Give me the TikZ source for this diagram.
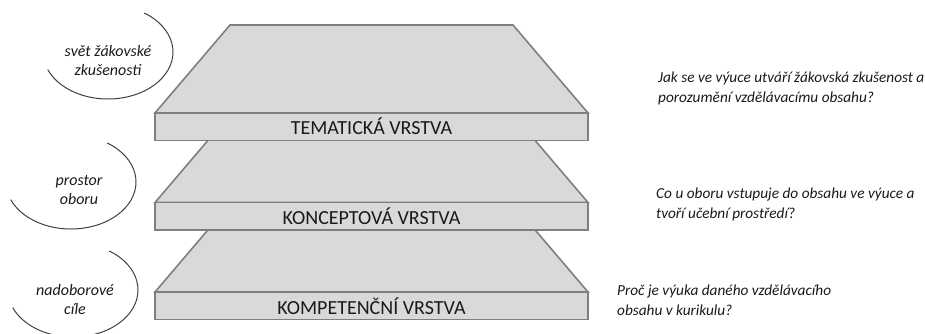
\documentclass[tikz,border=0pt]{standalone}
\usepackage{fontspec}
\setmainfont{Carlito}
\definecolor{slabfill}{HTML}{D9D9D9}
\definecolor{slabline}{HTML}{7F7F7F}
\definecolor{inktext}{HTML}{1A1A1A}
\definecolor{bubbleline}{HTML}{404040}
\begin{document}
\begin{tikzpicture}[x=1pt,y=-1pt,
  face/.style={fill=slabfill,draw=slabline,line width=1.6pt,line join=miter},
  layerlabel/.style={font=\fontsize{20}{24}\selectfont,text=inktext,inner sep=0,anchor=base},
  question/.style={font=\fontsize{15.3}{20}\selectfont\itshape,text=inktext,align=left,anchor=west,inner sep=0},
  bubbletext/.style={font=\fontsize{16}{19}\selectfont\itshape,text=inktext,align=center,inner sep=0},
  bubble/.style={draw=bubbleline,line width=1pt}]
\useasboundingbox (0,0) rectangle (925,334);
\clip (0,0) rectangle (925,334);

% one layer: slanted top face and front edge, #1 = top of the front edge
\newcommand\layerslab[3]{%
  \draw[face] (230,#1-88) -- (513,#1-88) -- (588,#1) -- (155,#1) -- cycle;
  \draw[face] (155,#1) rectangle (588,#1+27.5);
  \node[layerlabel] (#2) at (371.5,#1+22) {#3};
}

% lower layers first, so the upper ones cover them
\layerslab{292}{komp}{KOMPETENČNÍ VRSTVA}
\layerslab{202.5}{konc}{KONCEPTOVÁ VRSTVA}
\layerslab{113}{tema}{TEMATICKÁ VRSTVA}

% open bubbles on the left
\coordinate (b1) at (108,52);
\coordinate (b2) at (71,182);
\coordinate (b3) at (73,290);
\foreach \c in {b1,b2,b3}
  \draw[bubble] (\c) ++(-56:65 and 47) arc[start angle=-56,end angle=158,x radius=65,y radius=47];

\node[bubbletext] (t1) at (108,61) {svět žákovské\\zkušenosti};
\node[bubbletext] (t2) at (79,190) {prostor\\oboru};
\node[bubbletext] (t3) at (75,299) {nadoborové\\cíle};

% guiding questions on the right
\node[question] (q1) at (658,88) {Jak se ve výuce utváří žákovská zkušenost a\\porozumění vzdělávacímu obsahu?};
\node[question] (q2) at (656,204) {Co u oboru vstupuje do obsahu ve výuce a\\tvoří učební prostředí?};
\node[question] (q3) at (617,300) {Proč je výuka daného vzdělávacího\\obsahu v kurikulu?};
\end{tikzpicture}
\end{document}
